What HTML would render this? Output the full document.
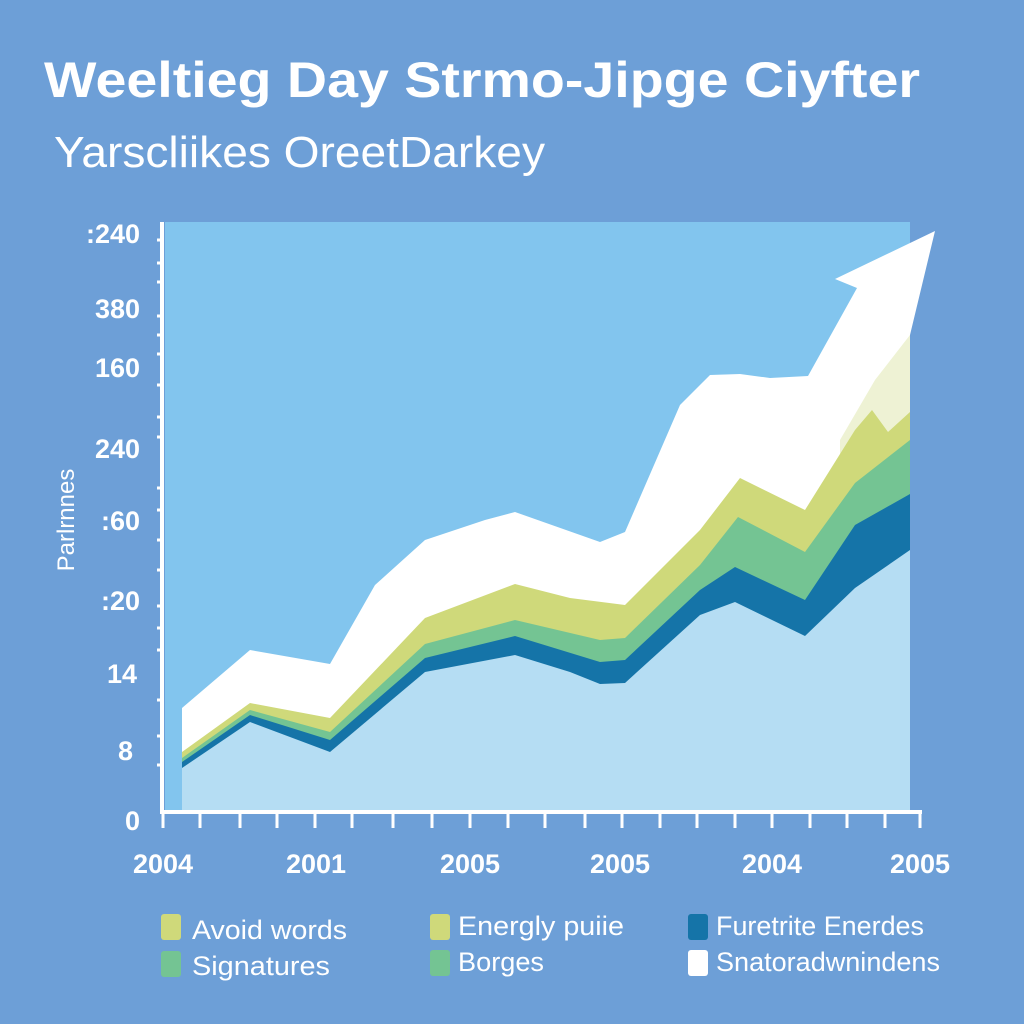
<!DOCTYPE html>
<html><head><meta charset="utf-8"><style>
html,body{margin:0;padding:0;background:#6d9fd7;}
svg{display:block}
text{font-family:"Liberation Sans",sans-serif;fill:#fff}
</style></head><body>
<svg width="1024" height="1024" viewBox="0 0 1024 1024">
<rect width="1024" height="1024" fill="#6d9fd7"/>
<text x="44" y="97" font-size="50" font-weight="bold" textLength="876" lengthAdjust="spacingAndGlyphs">Weeltieg Day Strmo-Jipge Ciyfter</text>
<text x="54" y="167" font-size="44" textLength="491" lengthAdjust="spacingAndGlyphs">Yarscliikes OreetDarkey</text>
<rect x="165" y="222" width="745" height="588" fill="#82c5ee"/>
<polygon fill="#ffffff" points="182,708 250,650 330,664 375,585 425,540 485,520 515,512 600,542 625,532 680,405 710,375 740,374 770,378 808,376 857,288 835,279 935,231 910,335 910,810 182,810"/>
<polygon fill="#eef2d4" points="840,440 875,380 910,335 910,810 840,810"/>
<polygon fill="#cfd97a" points="182,752 250,703 330,718 425,618 515,584 570,598 625,605 700,530 740,478 805,510 855,430 872,410 888,432 910,412 910,810 182,810"/>
<polygon fill="#74c493" points="182,758 250,710 330,732 425,644 515,620 600,640 625,638 700,565 738,517 805,552 855,483 910,440 910,810 182,810"/>
<polygon fill="#1574a8" points="182,762 250,715 330,740 425,658 515,636 600,662 625,660 700,590 735,567 805,600 855,525 910,494 910,810 182,810"/>
<polygon fill="#b5ddf3" points="182,768 250,722 330,752 425,672 515,655 570,672 600,684 625,683 700,615 735,602 805,636 855,588 910,550 910,810 182,810"/>
<g stroke="#fff" stroke-width="4" fill="none">
<line x1="162" y1="222" x2="162" y2="814"/>
<line x1="160" y1="812" x2="922" y2="812"/>
</g>
<g stroke="#fff" stroke-width="3">
<line x1="157" y1="240" x2="162" y2="240"/><line x1="157" y1="263" x2="162" y2="263"/><line x1="157" y1="282" x2="162" y2="282"/>
<line x1="157" y1="316" x2="162" y2="316"/><line x1="157" y1="335" x2="162" y2="335"/><line x1="157" y1="354" x2="162" y2="354"/>
<line x1="157" y1="385" x2="162" y2="385"/><line x1="157" y1="417" x2="162" y2="417"/><line x1="157" y1="437" x2="162" y2="437"/>
<line x1="157" y1="488" x2="162" y2="488"/><line x1="157" y1="510" x2="162" y2="510"/><line x1="157" y1="540" x2="162" y2="540"/>
<line x1="157" y1="570" x2="162" y2="570"/><line x1="157" y1="606" x2="162" y2="606"/><line x1="157" y1="628" x2="162" y2="628"/>
<line x1="157" y1="650" x2="162" y2="650"/><line x1="157" y1="700" x2="162" y2="700"/><line x1="157" y1="736" x2="162" y2="736"/><line x1="157" y1="765" x2="162" y2="765"/>
<line x1="163" y1="812" x2="163" y2="828"/><line x1="200" y1="812" x2="200" y2="828"/><line x1="240" y1="812" x2="240" y2="828"/>
<line x1="277" y1="812" x2="277" y2="828"/><line x1="315" y1="812" x2="315" y2="828"/><line x1="352" y1="812" x2="352" y2="828"/>
<line x1="393" y1="812" x2="393" y2="828"/><line x1="432" y1="812" x2="432" y2="828"/><line x1="470" y1="812" x2="470" y2="828"/>
<line x1="508" y1="812" x2="508" y2="828"/><line x1="545" y1="812" x2="545" y2="828"/><line x1="585" y1="812" x2="585" y2="828"/>
<line x1="622" y1="812" x2="622" y2="828"/><line x1="660" y1="812" x2="660" y2="828"/><line x1="697" y1="812" x2="697" y2="828"/>
<line x1="735" y1="812" x2="735" y2="828"/><line x1="772" y1="812" x2="772" y2="828"/><line x1="810" y1="812" x2="810" y2="828"/>
<line x1="847" y1="812" x2="847" y2="828"/><line x1="885" y1="812" x2="885" y2="828"/><line x1="920" y1="812" x2="920" y2="828"/>
</g>
<g font-size="27" font-weight="bold" text-anchor="end">
<text x="140" y="243">:240</text><text x="140" y="318">380</text><text x="140" y="377">160</text>
<text x="140" y="458">240</text><text x="140" y="530">:60</text><text x="140" y="610">:20</text>
<text x="137" y="683">14</text><text x="133" y="760">8</text><text x="140" y="830">0</text>
</g>
<text x="0" y="0" font-size="24" text-anchor="middle" transform="translate(74 520) rotate(-90)">Parlrnnes</text>
<g font-size="27" font-weight="bold" text-anchor="middle">
<text x="163" y="873">2004</text><text x="316" y="873">2001</text><text x="470" y="873">2005</text>
<text x="620" y="873">2005</text><text x="772" y="873">2004</text><text x="920" y="873">2005</text>
</g>
<g font-size="27">
<rect x="161" y="914" width="20" height="26" rx="3" fill="#cfd97a"/><text x="192" y="939" textLength="155" lengthAdjust="spacingAndGlyphs">Avoid words</text>
<rect x="161" y="951" width="20" height="26" rx="3" fill="#74c493"/><text x="192" y="975" textLength="138" lengthAdjust="spacingAndGlyphs">Signatures</text>
<rect x="430" y="914" width="20" height="26" rx="3" fill="#cfd97a"/><text x="458" y="935" textLength="166" lengthAdjust="spacingAndGlyphs">Energly puiie</text>
<rect x="430" y="950" width="20" height="26" rx="3" fill="#74c493"/><text x="458" y="971" textLength="86" lengthAdjust="spacingAndGlyphs">Borges</text>
<rect x="688" y="914" width="20" height="26" rx="3" fill="#1574a8"/><text x="716" y="935" textLength="208" lengthAdjust="spacingAndGlyphs">Furetrite Enerdes</text>
<rect x="688" y="950" width="20" height="26" rx="3" fill="#fff"/><text x="716" y="971" textLength="224" lengthAdjust="spacingAndGlyphs">Snatoradwnindens</text>
</g>
</svg>
</body></html>
